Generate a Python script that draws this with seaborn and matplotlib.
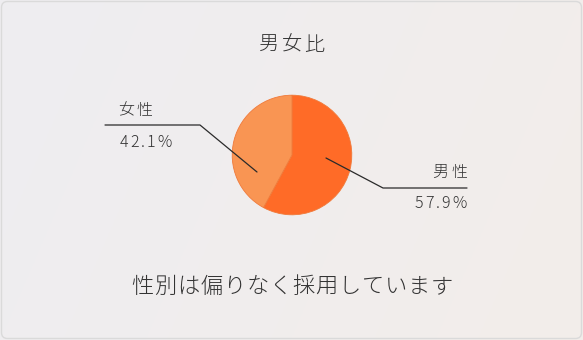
import numpy as np
import matplotlib
matplotlib.use("Agg")
import matplotlib.pyplot as plt
import seaborn as sns
from matplotlib.patches import FancyBboxPatch
from matplotlib.lines import Line2D

categories = ["男性", "女性"]
values = [57.9, 42.1]
value_labels = ["57.9%", "42.1%"]
title = "男女比"
caption = "性別は偏りなく採用しています"
colors = ["#FF6B27", "#F99553"]

sns.set_theme(style="white")
plt.rcParams['font.family'] = ['Noto Sans CJK JP', 'DejaVu Sans']

W, H = 583, 340
fig = plt.figure(figsize=(W / 100, H / 100), dpi=100)
fig.patch.set_facecolor("white")
renderer = fig.canvas.get_renderer()

# background gradient
bg = fig.add_axes([0, 0, 1, 1])
gx = np.linspace(0, 1, 200)
gy = np.linspace(0, 1, 120)
X, Y = np.meshgrid(gx, gy)
t = (X * 0.8 + (1 - Y) * 0.2)
c0 = np.array([0xEE, 0xEE, 0xF1]) / 255
c1 = np.array([0xF3, 0xED, 0xEA]) / 255
img = c0[None, None, :] * (1 - t[..., None]) + c1[None, None, :] * t[..., None]
bg.imshow(img, extent=[0, W, 0, H], aspect="auto", origin="upper")
bg.add_patch(FancyBboxPatch((1.5, 1.5), W - 3, H - 3,
                            boxstyle="round,pad=0,rounding_size=6",
                            fill=False, edgecolor="#DADADA", linewidth=1))
bg.set_xlim(0, W)
bg.set_ylim(H, 0)
bg.axis("off")

def px(x, y):
    return (x / W, 1 - y / H)

text_color = "#333333"

def spaced_text(x, y, s, size, spacing, ha="left"):
    widths = []
    for ch in s:
        tt = fig.text(0, 0, ch, fontsize=size)
        widths.append(tt.get_window_extent(renderer).width)
        tt.remove()
    total = sum(widths) + spacing * (len(s) - 1)
    if ha == "center":
        x0 = x - total / 2
    elif ha == "right":
        x0 = x - total
    else:
        x0 = x
    for ch, w in zip(s, widths):
        fig.text(*px(x0, y), ch, ha="left", va="center", fontsize=size,
                 color=text_color, fontweight="light")
        x0 += w + spacing

# pie
cx, cy, r = 292, 155, 61
ax = fig.add_axes([(cx - r) / W, (H - cy - r) / H, 2 * r / W, 2 * r / H])
wedges, _ = ax.pie(values, colors=colors, startangle=90, counterclock=False,
                   radius=1, wedgeprops=dict(edgecolor="#F07A3A", linewidth=0.6))
ax.set_xlim(-1.02, 1.02)
ax.set_ylim(-1.02, 1.02)
ax.set_aspect("equal")
ax.axis("off")

spaced_text(292, 45, title, 14.5, 2.5, ha="center")
spaced_text(292, 287, caption, 16, 0.8, ha="center")

# leader lines (figure pixel layout)
line_kw = dict(color="#2A2A2A", linewidth=0.9, transform=fig.transFigure)
# female
xs, ys = zip(px(105, 125), px(200, 125), px(257, 172))
fig.add_artist(Line2D(xs, ys, **line_kw))
spaced_text(118, 110, categories[1], 11.5, 2.5)
spaced_text(120, 142, value_labels[1], 11.5, 1.6)
# male
xs, ys = zip(px(326, 158), px(383, 188), px(467, 188))
fig.add_artist(Line2D(xs, ys, **line_kw))
spaced_text(467, 172, categories[0], 11.5, 2.5, ha="right")
spaced_text(467, 204, value_labels[0], 11.5, 1.6, ha="right")

fig.savefig("out.png", dpi=100)
